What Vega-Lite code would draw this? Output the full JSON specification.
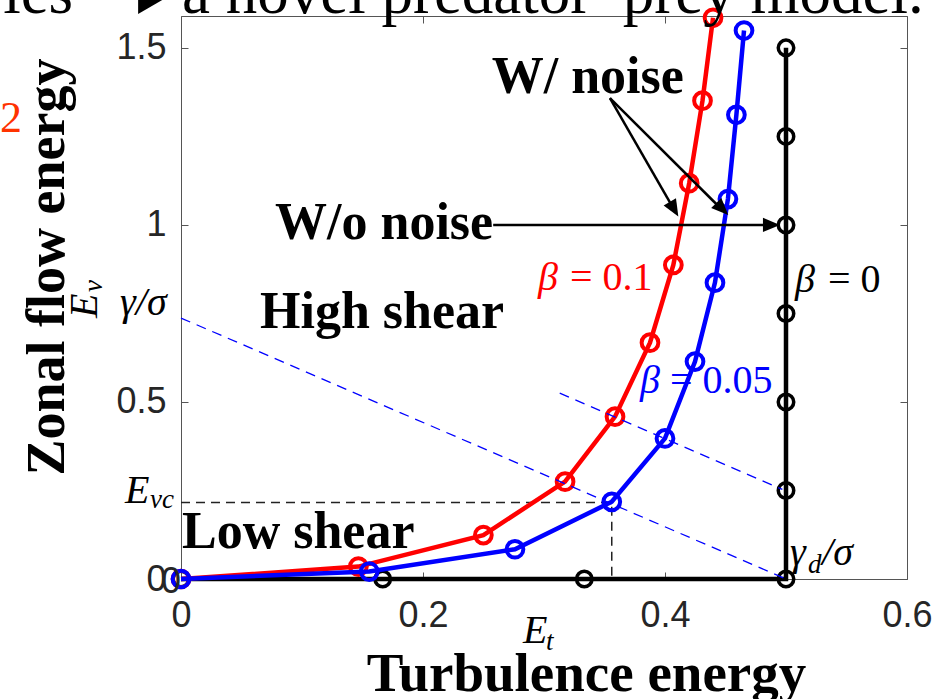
{
  "$schema": "https://vega.github.io/schema/vega-lite/v6.json",
  "width": 726,
  "height": 563,
  "autosize": "none",
  "padding": {"left": 181, "top": 16, "right": 44, "bottom": 120},
  "background": "white",
  "config": {
    "view": {"stroke": "#555555", "strokeWidth": 1},
    "axis": {"grid": false}
  },
  "datasets": {
    "curves": [
      {"beta": "0", "Et": 0, "Ev": 0, "order": 1},
      {"beta": "0", "Et": 0.1667, "Ev": 0, "order": 2},
      {"beta": "0", "Et": 0.3333, "Ev": 0, "order": 3},
      {"beta": "0", "Et": 0.5, "Ev": 0, "order": 4},
      {"beta": "0", "Et": 0.5, "Ev": 0.25, "order": 5},
      {"beta": "0", "Et": 0.5, "Ev": 0.5, "order": 6},
      {"beta": "0", "Et": 0.5, "Ev": 0.75, "order": 7},
      {"beta": "0", "Et": 0.5, "Ev": 1.0, "order": 8},
      {"beta": "0", "Et": 0.5, "Ev": 1.25, "order": 9},
      {"beta": "0", "Et": 0.5, "Ev": 1.5, "order": 10},
      {"beta": "0.1", "Et": 0, "Ev": 0, "order": 1},
      {"beta": "0.1", "Et": 0.1466, "Ev": 0.035, "order": 2},
      {"beta": "0.1", "Et": 0.2499, "Ev": 0.124, "order": 3},
      {"beta": "0.1", "Et": 0.3174, "Ev": 0.275, "order": 4},
      {"beta": "0.1", "Et": 0.3587, "Ev": 0.4585, "order": 5},
      {"beta": "0.1", "Et": 0.3876, "Ev": 0.6675, "order": 6},
      {"beta": "0.1", "Et": 0.4069, "Ev": 0.887, "order": 7},
      {"beta": "0.1", "Et": 0.42, "Ev": 1.118, "order": 8},
      {"beta": "0.1", "Et": 0.431, "Ev": 1.351, "order": 9},
      {"beta": "0.1", "Et": 0.4397, "Ev": 1.585, "order": 10},
      {"beta": "0.05", "Et": 0, "Ev": 0, "order": 1},
      {"beta": "0.05", "Et": 0.1556, "Ev": 0.021, "order": 2},
      {"beta": "0.05", "Et": 0.276, "Ev": 0.084, "order": 3},
      {"beta": "0.05", "Et": 0.356, "Ev": 0.218, "order": 4},
      {"beta": "0.05", "Et": 0.4, "Ev": 0.397, "order": 5},
      {"beta": "0.05", "Et": 0.4248, "Ev": 0.614, "order": 6},
      {"beta": "0.05", "Et": 0.4413, "Ev": 0.837, "order": 7},
      {"beta": "0.05", "Et": 0.452, "Ev": 1.073, "order": 8},
      {"beta": "0.05", "Et": 0.459, "Ev": 1.311, "order": 9},
      {"beta": "0.05", "Et": 0.4653, "Ev": 1.549, "order": 10}
    ],
    "guides": [
      {"id": "Evc", "Et": 0, "Ev": 0.216, "order": 1},
      {"id": "Evc", "Et": 0.356, "Ev": 0.216, "order": 2},
      {"id": "Evc", "Et": 0.356, "Ev": 0, "order": 3},
      {"id": "gamma", "Et": 0, "Ev": 0.737, "order": 1},
      {"id": "gamma", "Et": 0.5, "Ev": 0, "order": 2},
      {"id": "shifted", "Et": 0.313, "Ev": 0.525, "order": 1},
      {"id": "shifted", "Et": 0.497, "Ev": 0.253, "order": 2}
    ],
    "arrows": [
      {"arrow": "wo", "Et": 0.258, "Ev": 1.0, "order": 1},
      {"arrow": "wo", "Et": 0.49, "Ev": 1.0, "order": 2},
      {"arrow": "w1", "Et": 0.3545, "Ev": 1.358, "order": 1},
      {"arrow": "w1", "Et": 0.408, "Ev": 1.04, "order": 2},
      {"arrow": "w2", "Et": 0.3545, "Ev": 1.358, "order": 1},
      {"arrow": "w2", "Et": 0.448, "Ev": 1.04, "order": 2}
    ],
    "heads": [
      {"arrow": "wo", "Et": 0.495, "Ev": 1.0},
      {"arrow": "w1", "Et": 0.411, "Ev": 1.0235},
      {"arrow": "w2", "Et": 0.4523, "Ev": 1.028}
    ],
    "labels": [
      {"label": "W/ noise", "Et": 0.2568, "Ev": 1.372},
      {"label": "W/o noise", "Et": 0.0777, "Ev": 0.96},
      {"label": "High shear", "Et": 0.0653, "Ev": 0.709},
      {"label": "Low shear", "Et": 0.0008, "Ev": 0.0876}
    ],
    "betaSym": [
      {"beta": "0.1", "label": "β", "Et": 0.295, "Ev": 0.8164},
      {"beta": "0.05", "label": "β", "Et": 0.3793, "Ev": 0.5246},
      {"beta": "0", "label": "β", "Et": 0.5074, "Ev": 0.8116}
    ],
    "betaVal": [
      {"beta": "0.1", "label": "= 0.1", "Et": 0.3215, "Ev": 0.8164},
      {"beta": "0.05", "label": "= 0.05", "Et": 0.4041, "Ev": 0.5246},
      {"beta": "0", "label": "= 0", "Et": 0.5347, "Ev": 0.8116}
    ],
    "math": [
      {"label": "γ/σ", "Et": -0.0504, "Ev": 0.7458},
      {"label": "E", "Et": -0.0463, "Ev": 0.2147},
      {"label": "E", "Et": 0.2826, "Ev": -0.181},
      {"label": "γ", "Et": 0.5033, "Ev": 0.0395},
      {"label": "/σ", "Et": 0.5298, "Ev": 0.0395}
    ],
    "mathSub": [
      {"label": "vc", "Et": -0.0256, "Ev": 0.2006},
      {"label": "t", "Et": 0.3017, "Ev": -0.2006},
      {"label": "d", "Et": 0.5182, "Ev": 0.0169}
    ],
    "evMain": [{"label": "E", "Et": -0.0694, "Ev": 0.737}],
    "evSub": [{"label": "v", "Et": -0.0653, "Ev": 0.8107}],
    "origin": [{"label": "0", "Et": 0.0, "Ev": -0.0085}],
    "slide": [
      {"label": "ies", "Et": -0.147, "Ev": 1.599},
      {"label": "a novel predator–prey model.", "Et": 0.0008, "Ev": 1.599}
    ],
    "bullet": [{"Et": -0.024, "Ev": 1.641}],
    "eqno": [{"label": "2", "Et": -0.1496, "Ev": 1.263}]
  },
  "encoding": {
    "x": {"field": "Et", "type": "quantitative", "scale": {"domain": [0, 0.6], "nice": false, "zero": false}, "axis": null},
    "y": {"field": "Ev", "type": "quantitative", "scale": {"domain": [0, 1.59], "nice": false, "zero": false}, "axis": null}
  },
  "layer": [
    {
      "data": {"name": "guides"},
      "transform": [{"filter": "datum.id === 'Evc'"}],
      "mark": {"type": "line", "color": "#222222", "strokeWidth": 1.5, "strokeDash": [9, 6]},
      "encoding": {
        "x": {
          "field": "Et", "type": "quantitative",
          "scale": {"domain": [0, 0.6], "nice": false, "zero": false},
          "axis": {
            "orient": "bottom", "values": [0, 0.2, 0.4, 0.6], "format": "~g",
            "domain": false, "tickSize": -7, "tickColor": "#555555", "tickWidth": 1,
            "labelFlush": false, "labelOverlap": false,
            "labelFont": "Liberation Sans", "labelFontSize": 36, "labelColor": "#262626", "labelPadding": 26,
            "title": "Turbulence energy", "titleFont": "Liberation Serif", "titleFontWeight": "bold",
            "titleFontSize": 55, "titleColor": "#000000", "titleX": 405, "titleY": 111,
            "titleAlign": "center", "titleBaseline": "alphabetic"
          }
        },
        "y": {
          "field": "Ev", "type": "quantitative",
          "scale": {"domain": [0, 1.59], "nice": false, "zero": false},
          "axis": {
            "orient": "left", "values": [0, 0.5, 1, 1.5], "format": "~g",
            "domain": false, "tickSize": -7, "tickColor": "#555555", "tickWidth": 1,
            "labelFlush": false, "labelOverlap": false,
            "labelFont": "Liberation Sans", "labelFontSize": 36, "labelColor": "#262626", "labelPadding": 22,
            "title": "Zonal flow energy", "titleFont": "Liberation Serif", "titleFontWeight": "bold",
            "titleFontSize": 54, "titleColor": "#000000", "titleAngle": 270, "titleX": -118, "titleY": 459,
            "titleAlign": "left", "titleBaseline": "alphabetic"
          }
        },
        "order": {"field": "order"}
      }
    },
    {
      "data": {"name": "curves"},
      "transform": [{"filter": "datum.beta === '0'"}],
      "mark": {"type": "line", "color": "#000000", "strokeWidth": 4.5},
      "encoding": {
        "x": {
          "field": "Et", "type": "quantitative",
          "scale": {"domain": [0, 0.6], "nice": false, "zero": false},
          "axis": {"orient": "top", "values": [0, 0.2, 0.4, 0.6], "labels": false, "domain": false, "tickSize": -7, "tickColor": "#555555", "tickWidth": 1, "title": null}
        },
        "y": {
          "field": "Ev", "type": "quantitative",
          "scale": {"domain": [0, 1.59], "nice": false, "zero": false},
          "axis": {"orient": "right", "values": [0, 0.5, 1, 1.5], "labels": false, "domain": false, "tickSize": -7, "tickColor": "#555555", "tickWidth": 1, "title": null}
        },
        "order": {"field": "order"}
      }
    },
    {
      "data": {"name": "curves"},
      "transform": [{"filter": "datum.beta === '0'"}],
      "mark": {"type": "point", "shape": "circle", "filled": false, "color": "#000000", "size": 240, "strokeWidth": 3.5, "opacity": 1}
    },
    {
      "data": {"name": "curves"},
      "transform": [{"filter": "datum.beta === '0.1'"}],
      "mark": {"type": "line", "color": "#ff0000", "strokeWidth": 4.5},
      "encoding": {"order": {"field": "order"}}
    },
    {
      "data": {"name": "curves"},
      "transform": [{"filter": "datum.beta === '0.1'"}],
      "mark": {"type": "point", "shape": "circle", "filled": false, "color": "#ff0000", "size": 280, "strokeWidth": 4, "opacity": 1}
    },
    {
      "data": {"name": "curves"},
      "transform": [{"filter": "datum.beta === '0.05'"}],
      "mark": {"type": "line", "color": "#0000ff", "strokeWidth": 4.5},
      "encoding": {"order": {"field": "order"}}
    },
    {
      "data": {"name": "curves"},
      "transform": [{"filter": "datum.beta === '0.05'"}],
      "mark": {"type": "point", "shape": "circle", "filled": false, "color": "#0000ff", "size": 280, "strokeWidth": 4, "opacity": 1}
    },
    {
      "data": {"name": "guides"},
      "transform": [{"filter": "datum.id !== 'Evc'"}],
      "mark": {"type": "line", "color": "#0000ff", "strokeWidth": 1.3, "strokeDash": [10, 7]},
      "encoding": {"detail": {"field": "id"}, "order": {"field": "order"}}
    },
    {
      "data": {"name": "arrows"},
      "mark": {"type": "line", "color": "#000000", "strokeWidth": 2.5},
      "encoding": {"detail": {"field": "arrow"}, "order": {"field": "order"}}
    },
    {
      "data": {"name": "heads"},
      "transform": [{"filter": "datum.arrow === 'wo'"}],
      "mark": {"type": "point", "shape": "M0,0L-0.42,1L0.42,1Z", "filled": true, "color": "#000000", "size": 1156, "angle": 90, "strokeWidth": 0, "opacity": 1}
    },
    {
      "data": {"name": "heads"},
      "transform": [{"filter": "datum.arrow === 'w1'"}],
      "mark": {"type": "point", "shape": "M0,0L-0.42,1L0.42,1Z", "filled": true, "color": "#000000", "size": 1156, "angle": 150, "strokeWidth": 0, "opacity": 1}
    },
    {
      "data": {"name": "heads"},
      "transform": [{"filter": "datum.arrow === 'w2'"}],
      "mark": {"type": "point", "shape": "M0,0L-0.42,1L0.42,1Z", "filled": true, "color": "#000000", "size": 1156, "angle": 135, "strokeWidth": 0, "opacity": 1}
    },
    {
      "data": {"name": "labels"},
      "mark": {"type": "text", "font": "Liberation Serif", "fontWeight": "bold", "fontSize": 52, "align": "left", "baseline": "alphabetic", "color": "#000000"},
      "encoding": {"text": {"field": "label"}}
    },
    {
      "data": {"name": "betaSym"},
      "mark": {"type": "text", "font": "Liberation Serif", "fontStyle": "italic", "fontSize": 40, "align": "left", "baseline": "alphabetic"},
      "encoding": {
        "text": {"field": "label"},
        "color": {"field": "beta", "type": "nominal", "scale": {"domain": ["0.1", "0.05", "0"], "range": ["#ff0000", "#0000ff", "#000000"]}, "legend": null}
      }
    },
    {
      "data": {"name": "betaVal"},
      "mark": {"type": "text", "font": "Liberation Serif", "fontSize": 40, "align": "left", "baseline": "alphabetic"},
      "encoding": {
        "text": {"field": "label"},
        "color": {"field": "beta", "type": "nominal", "scale": {"domain": ["0.1", "0.05", "0"], "range": ["#ff0000", "#0000ff", "#000000"]}, "legend": null}
      }
    },
    {
      "data": {"name": "math"},
      "mark": {"type": "text", "font": "Liberation Serif", "fontStyle": "italic", "fontSize": 40, "align": "left", "baseline": "alphabetic", "color": "#000000"},
      "encoding": {"text": {"field": "label"}}
    },
    {
      "data": {"name": "mathSub"},
      "mark": {"type": "text", "font": "Liberation Serif", "fontStyle": "italic", "fontSize": 27, "align": "left", "baseline": "alphabetic", "color": "#000000"},
      "encoding": {"text": {"field": "label"}}
    },
    {
      "data": {"name": "evMain"},
      "mark": {"type": "text", "font": "Liberation Serif", "fontStyle": "italic", "fontSize": 40, "align": "left", "baseline": "alphabetic", "angle": 270, "color": "#000000"},
      "encoding": {"text": {"field": "label"}}
    },
    {
      "data": {"name": "evSub"},
      "mark": {"type": "text", "font": "Liberation Serif", "fontStyle": "italic", "fontSize": 27, "align": "left", "baseline": "alphabetic", "angle": 270, "color": "#000000"},
      "encoding": {"text": {"field": "label"}}
    },
    {
      "data": {"name": "origin"},
      "mark": {"type": "text", "font": "Liberation Sans", "fontSize": 36, "align": "right", "baseline": "middle", "color": "#262626"},
      "encoding": {"text": {"field": "label"}}
    },
    {
      "data": {"name": "slide"},
      "mark": {"type": "text", "font": "Liberation Serif", "fontSize": 63, "align": "left", "baseline": "alphabetic", "color": "#000000"},
      "encoding": {"text": {"field": "label"}}
    },
    {
      "data": {"name": "bullet"},
      "mark": {"type": "point", "shape": "triangle-right", "filled": true, "color": "#000000", "size": 1024, "strokeWidth": 0, "opacity": 1}
    },
    {
      "data": {"name": "eqno"},
      "mark": {"type": "text", "font": "Liberation Serif", "fontSize": 44, "align": "left", "baseline": "alphabetic", "color": "#ff3300"},
      "encoding": {"text": {"field": "label"}}
    }
  ],
  "resolve": {"axis": {"x": "independent", "y": "independent"}}
}
